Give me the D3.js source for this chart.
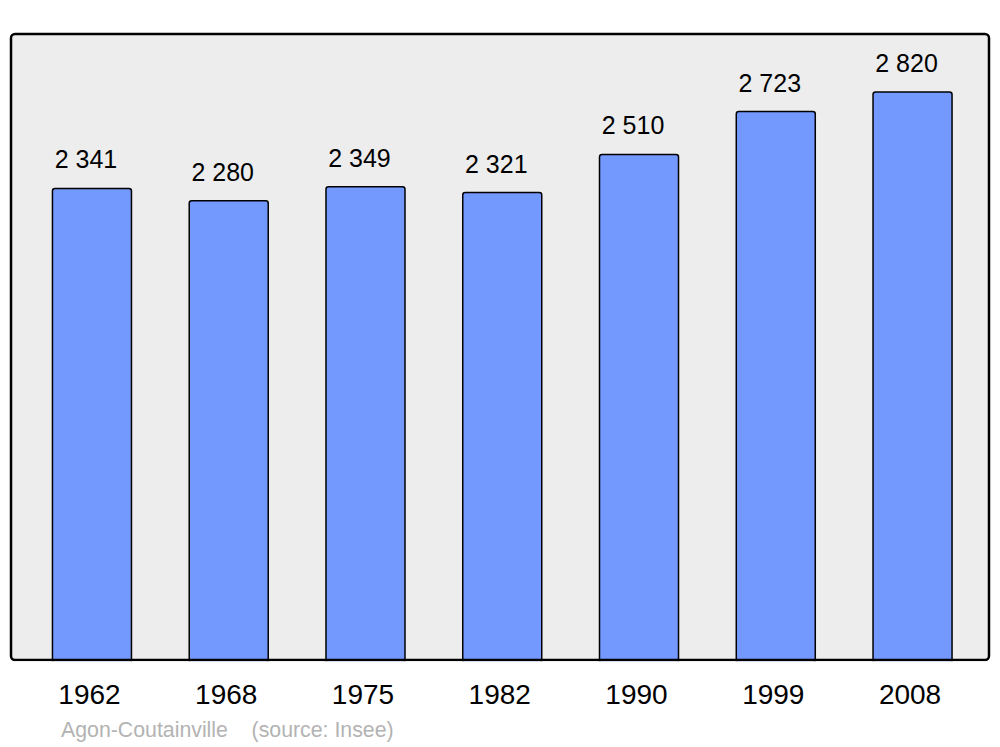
<!DOCTYPE html>
<html>
<head>
<meta charset="utf-8">
<script src="https://cdn.jsdelivr.net/npm/d3@7"></script>
<style>
  body { margin: 0; background: #ffffff; }
  svg { display: block; font-family: "Liberation Sans", Arial, sans-serif; }
</style>
</head>
<body>
<div id="chart"></div>
<script>
// population data
const years = ["1962", "1968", "1975", "1982", "1990", "1999", "2008"];
const population = [2341, 2280, 2349, 2321, 2510, 2723, 2820];
const valueLabels = ["2 341", "2 280", "2 349", "2 321", "2 510", "2 723", "2 820"];
const commune = "Agon-Coutainville";
const sourceText = "(source: Insee)";

const width = 1000, height = 747;
const frame = { left: 11, right: 989, top: 34, bottom: 660 };

const svg = d3.select("#chart")
    .append("svg")
    .attr("width", width)
    .attr("height", height);

// plot background
svg.append("rect")
    .attr("x", frame.left)
    .attr("y", frame.top)
    .attr("width", frame.right - frame.left)
    .attr("height", frame.bottom - frame.top)
    .attr("rx", 4)
    .attr("fill", "#ededed");

const x = d3.scaleBand()
    .domain(years)
    .range([23.6, 980.9])
    .paddingInner(0.4223)
    .paddingOuter(0.211);

const y = d3.scaleLinear()
    .domain([0, 3108])
    .range([frame.bottom, frame.top]);

const data = years.map((yr, i) => ({ year: yr, value: population[i], label: valueLabels[i] }));

// bars
svg.selectAll("rect.bar")
    .data(data)
    .join("rect")
    .attr("class", "bar")
    .attr("x", d => x(d.year))
    .attr("y", d => y(d.value))
    .attr("width", x.bandwidth())
    .attr("height", d => y(0) - y(d.value) + 3)
    .attr("rx", 2.5)
    .attr("fill", "#7399ff")
    .attr("stroke", "#000")
    .attr("stroke-width", 1.5);

// frame outline on top (hides bar bottoms)
svg.append("rect")
    .attr("x", frame.left)
    .attr("y", frame.top)
    .attr("width", frame.right - frame.left)
    .attr("height", frame.bottom - frame.top)
    .attr("rx", 4)
    .attr("fill", "none")
    .attr("stroke", "#000")
    .attr("stroke-width", 2.5);

// clip bar overflow below frame
svg.append("rect")
    .attr("x", 0)
    .attr("y", frame.bottom + 1.25)
    .attr("width", width)
    .attr("height", 10)
    .attr("fill", "#fff");

// value labels
svg.selectAll("text.value")
    .data(data)
    .join("text")
    .attr("class", "value")
    .attr("x", d => x(d.year) + x.bandwidth() / 2 - 6)
    .attr("y", d => y(d.value) - 20)
    .attr("text-anchor", "middle")
    .style("font-size", "25px")
    .attr("fill", "#000")
    .text(d => d.label);

// year labels
svg.selectAll("text.year")
    .data(data)
    .join("text")
    .attr("class", "year")
    .attr("x", d => x(d.year) + x.bandwidth() / 2 - 2.5)
    .attr("y", 704)
    .attr("text-anchor", "middle")
    .style("font-size", "28px")
    .attr("fill", "#000")
    .text(d => d.year);

// source line
svg.append("text")
    .attr("x", 61)
    .attr("y", 737)
    .style("font-size", "21.3px")
    .attr("fill", "#b3b3b3")
    .attr("xml:space", "preserve")
    .text(commune + "    " + sourceText);
</script>
</body>
</html>
